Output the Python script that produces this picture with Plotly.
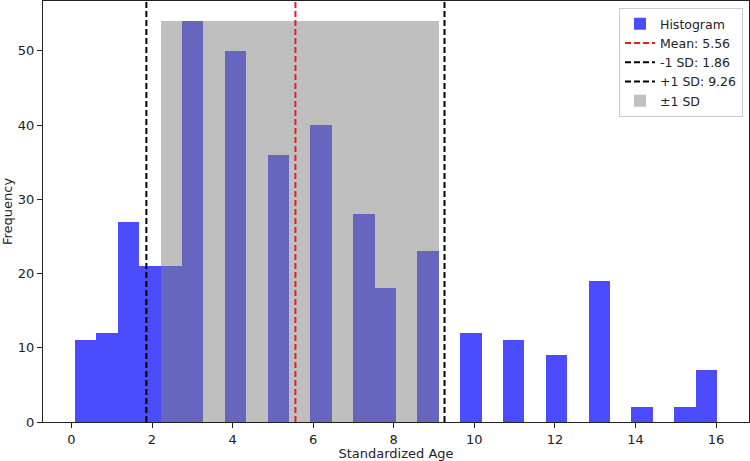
import plotly.graph_objects as go

# ---- data ----
bin_start = 0.091
bin_width = 0.531
counts = [11, 12, 27, 21, 21, 54, 0, 50, 0, 36, 0, 40, 0, 28, 18, 0, 23, 0,
          12, 0, 11, 0, 9, 0, 19, 0, 2, 0, 2, 7]
mean_val = 5.56
sd_low = 1.86
sd_high = 9.26
x_ticks = [0, 2, 4, 6, 8, 10, 12, 14, 16]
y_ticks = [0, 10, 20, 30, 40, 50]

edges = [bin_start + i * bin_width for i in range(len(counts) + 1)]
centers = [(edges[i] + edges[i + 1]) / 2 for i in range(len(counts))]
peak = max(counts)
shade_l = min(e for e in edges if e >= sd_low)
shade_r = max(e for e in edges if e <= sd_high)
ymax = peak * 1.05
span = edges[-1] - edges[0]
xr = [edges[0] - 0.05 * span, edges[-1] + 0.05 * span]

FONT = "DejaVu Sans"
FS = 13
dash = "6px,3px"

fig = go.Figure()
fig.add_trace(go.Bar(x=centers, y=counts, width=bin_width, name="Histogram",
                     marker=dict(color="rgba(0,0,255,0.7)", line=dict(width=0))))
fig.add_trace(go.Scatter(x=[mean_val, mean_val], y=[0, ymax], mode="lines",
                         name=f"Mean: {mean_val:.2f}",
                         line=dict(color="#dd2222", width=2, dash=dash)))
fig.add_trace(go.Scatter(x=[sd_low, sd_low], y=[0, ymax], mode="lines",
                         name=f"-1 SD: {sd_low:.2f}",
                         line=dict(color="black", width=2, dash=dash)))
fig.add_trace(go.Scatter(x=[sd_high, sd_high], y=[0, ymax], mode="lines",
                         name=f"+1 SD: {sd_high:.2f}",
                         line=dict(color="black", width=2, dash=dash)))
fig.add_trace(go.Bar(x=[(shade_l + shade_r) / 2], y=[peak], width=[shade_r - shade_l],
                     name="±1 SD",
                     marker=dict(color="rgba(128,128,128,0.5)", line=dict(width=0))))

axis_common = dict(showline=True, linecolor="#222", linewidth=1, mirror=True,
                   ticks="outside", ticklen=5, tickwidth=1, tickcolor="#222",
                   showgrid=False, zeroline=False,
                   tickfont=dict(family=FONT, size=FS, color="#222"))

fig.update_layout(
    width=750, height=461,
    margin=dict(l=43, r=1, t=1, b=39),
    plot_bgcolor="white", paper_bgcolor="white",
    barmode="overlay", bargap=0,
    font=dict(family=FONT, size=FS, color="#222"),
    xaxis=dict(range=xr, tickvals=x_ticks, automargin=False,
               title=dict(text="Standardized Age", standoff=2,
                          font=dict(family=FONT, size=FS, color="#222")),
               **axis_common),
    yaxis=dict(range=[0, ymax], tickvals=y_ticks, automargin=False,
               title=dict(text="Frequency", standoff=6,
                          font=dict(family=FONT, size=FS, color="#222")),
               **axis_common),
    legend=dict(x=0.9915, y=0.983, xanchor="right", yanchor="top",
                bgcolor="white", bordercolor="#cccccc", borderwidth=1,
                font=dict(family=FONT, size=12.5, color="#222"),
                tracegroupgap=0, itemwidth=30),
    showlegend=True,
)

fig.write_html("out.html")
